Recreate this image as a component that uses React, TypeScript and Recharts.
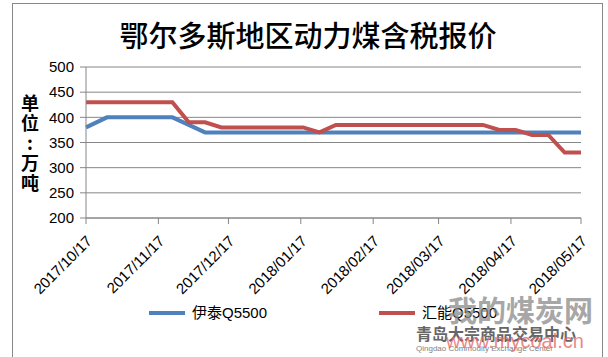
import React from 'react';
import { LineChart, Line, XAxis, YAxis, CartesianGrid, Legend } from 'recharts';

const dates = [
  '2017-10-17', '2017-10-26', '2017-11-02', '2017-11-09', '2017-11-16', '2017-11-23',
  '2017-11-30', '2017-12-07', '2017-12-14', '2017-12-21', '2017-12-28', '2018-01-04',
  '2018-01-11', '2018-01-18', '2018-01-25', '2018-02-01', '2018-02-08', '2018-02-15',
  '2018-02-22', '2018-03-01', '2018-03-08', '2018-03-15', '2018-03-22', '2018-03-29',
  '2018-04-05', '2018-04-12', '2018-04-19', '2018-04-26', '2018-05-03', '2018-05-10',
  '2018-05-17',
];

const yitai = [
  380, 400, 400, 400, 400, 400,
  385, 370, 370, 370, 370, 370,
  370, 370, 370, 370, 370, 370,
  370, 370, 370, 370, 370, 370,
  370, 370, 370, 370, 370, 370,
  370,
];

const huineng = [
  430, 430, 430, 430, 430, 430,
  390, 390, 380, 380, 380, 380,
  380, 380, 370, 385, 385, 385,
  385, 385, 385, 385, 385, 385,
  385, 375, 375, 365, 365, 330,
  330,
];

const tickDates = [
  '2017-10-17', '2017-11-17', '2017-12-17', '2018-01-17',
  '2018-02-17', '2018-03-17', '2018-04-17', '2018-05-17',
];
const tickLabels = [
  '2017/10/17', '2017/11/17', '2017/12/17', '2018/01/17',
  '2018/02/17', '2018/03/17', '2018/04/17', '2018/05/17',
];
const yTicks = [200, 250, 300, 350, 400, 450, 500];
const seriesNames = ['伊泰Q5500', '汇能Q5500'];
const title = '鄂尔多斯地区动力煤含税报价';
const yUnitChars = ['单', '位', '：', '万', '吨'];

const DAY = 86400000;
const toDay = (s: string) => Math.round(Date.parse(s + 'T00:00:00Z') / DAY);

const data = dates.map((d, i) => ({ t: toDay(d), yitai: yitai[i], huineng: huineng[i] }));
const xTicks = tickDates.map(toDay);

const BLUE = '#4F81BD';
const RED = '#C0504D';
const GRID = '#868686';
const FONT = '"Liberation Sans", Arial, "Noto Sans CJK SC", sans-serif';

const XTick = (props: any) => {
  const { x, y, payload } = props;
  const idx = xTicks.indexOf(payload.value);
  const label = idx >= 0 ? tickLabels[idx] : '';
  const ax = x + 7;
  const ay = y + 16;
  return (
    <text
      x={ax}
      y={ay}
      textAnchor="end"
      transform={`rotate(-45 ${ax} ${ay})`}
      fontSize={15}
      fontFamily={FONT}
      fill="#000"
    >
      {label}
    </text>
  );
};

const legendLefts = [149, 379];
const legendColors = [BLUE, RED];

const renderLegend = () => (
  <div style={{ position: 'relative', width: 608, height: 20 }}>
    {seriesNames.map((n, i) => (
      <div
        key={n}
        style={{
          position: 'absolute',
          left: legendLefts[i],
          top: 0,
          height: 20,
          display: 'flex',
          alignItems: 'center',
        }}
      >
        <span style={{ display: 'inline-block', width: 36, height: 4, background: legendColors[i], marginRight: 7 }} />
        <span style={{ fontSize: 15, fontFamily: FONT, color: '#000', lineHeight: '20px' }}>{n}</span>
      </div>
    ))}
  </div>
);

export default function App() {
  return (
    <div style={{ position: 'absolute', left: 0, top: 0, width: 608, height: 357, background: '#fff', overflow: 'hidden' }}>
      <LineChart
        width={608}
        height={357}
        data={data}
        margin={{ top: 67, right: 27, bottom: 34, left: 0 }}
      >
        <CartesianGrid horizontal vertical={false} stroke={GRID} strokeWidth={1} />
        <XAxis
          dataKey="t"
          type="number"
          domain={[xTicks[0], xTicks[xTicks.length - 1]]}
          ticks={xTicks}
          interval={0}
          tick={<XTick />}
          tickSize={6}
          height={85}
          axisLine={{ stroke: GRID }}
          tickLine={{ stroke: GRID }}
        />
        <YAxis
          type="number"
          domain={[200, 500]}
          ticks={yTicks}
          interval={0}
          width={86}
          tickSize={6}
          tickMargin={6}
          tick={{ fontSize: 15, fontFamily: FONT, fill: '#000' }}
          axisLine={{ stroke: GRID }}
          tickLine={{ stroke: GRID }}
        />
        <Legend
          verticalAlign="bottom"
          content={renderLegend}
          wrapperStyle={{ left: 0, width: 608, height: 20 }}
        />
        <Line
          type="linear"
          dataKey="yitai"
          name={seriesNames[0]}
          stroke={BLUE}
          strokeWidth={4}
          dot={false}
          isAnimationActive={false}
        />
        <Line
          type="linear"
          dataKey="huineng"
          name={seriesNames[1]}
          stroke={RED}
          strokeWidth={4}
          dot={false}
          isAnimationActive={false}
        />
      </LineChart>
      <svg
        width={608}
        height={357}
        style={{ position: 'absolute', left: 0, top: 0, pointerEvents: 'none' }}
      >
        <rect x={12.5} y={3.5} width={590} height={360} fill="none" stroke="#888" strokeWidth={1} />
        <text
          x={308}
          y={47}
          textAnchor="middle"
          fontSize={29}
          fontWeight={500}
          fontFamily='"Noto Sans CJK SC", sans-serif'
          fill="#000"
        >
          {title}
        </text>
        {yUnitChars.map((c, i) => (
          <text
            key={i}
            x={30}
            y={110 + i * 20}
            textAnchor="middle"
            fontSize={18}
            fontWeight={700}
            fontFamily='"Noto Sans CJK SC", sans-serif'
            fill="#000"
          >
            {c === '：' ? ':' : c}
          </text>
        ))}
        <g opacity={0.75}>
          <text x={448} y={322} fontSize={29} fontWeight={700} fontFamily='"Noto Sans CJK SC", sans-serif' fill="#8a8a8a">
            我的煤炭网
          </text>
          <text x={416} y={340} fontSize={16} fontWeight={700} fontFamily='"Noto Sans CJK SC", sans-serif' fill="#333">
            青岛大宗商品交易中心
          </text>
          <text x={416} y={351} fontSize={8} fontFamily={FONT} fill="#555">
            Qingdao Commodity Exchange Center
          </text>
          <text x={446} y={348} fontSize={20} fontFamily={FONT} fill="#e03a3a" opacity={0.8}>
            www.mycoal.cn
          </text>
        </g>
      </svg>
    </div>
  );
}
